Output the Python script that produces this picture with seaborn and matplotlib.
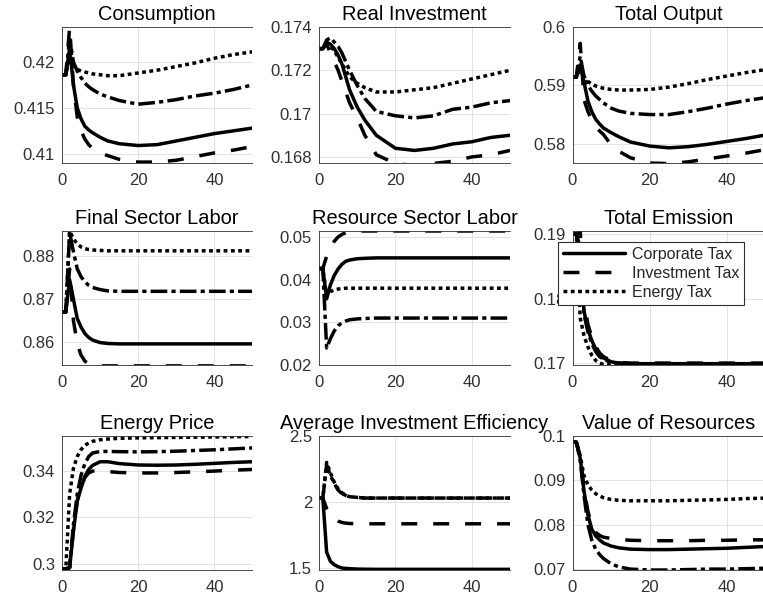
import matplotlib
matplotlib.use('Agg')
import matplotlib.pyplot as plt
from matplotlib.lines import Line2D
from matplotlib.ticker import FuncFormatter
import seaborn as sns

# --- data ---
t = [0, 1, 2, 3, 4, 5, 6, 7, 8, 10, 12, 15, 20, 25, 30, 35, 40, 45, 50]

consumption_corp = [0.4186, 0.4186, 0.4215, 0.4175, 0.4150, 0.4138, 0.4130, 0.4126, 0.4123, 0.4118, 0.4114, 0.4111, 0.4109, 0.4110, 0.4114, 0.4118, 0.4122, 0.4125, 0.4128]
consumption_inv = [0.4186, 0.4186, 0.4238, 0.4175, 0.4140, 0.4125, 0.4116, 0.4110, 0.4106, 0.4101, 0.4098, 0.4094, 0.4091, 0.4091, 0.4093, 0.4097, 0.4101, 0.4104, 0.4108]
consumption_energy = [0.4186, 0.4186, 0.4205, 0.4196, 0.4192, 0.4190, 0.4189, 0.4188, 0.4187, 0.4186, 0.4185, 0.4185, 0.4188, 0.4191, 0.4195, 0.4199, 0.4204, 0.4208, 0.4211]
consumption_alt = [0.4186, 0.4186, 0.4225, 0.4200, 0.4190, 0.4183, 0.4177, 0.4173, 0.4170, 0.4165, 0.4162, 0.4158, 0.4154, 0.4156, 0.4159, 0.4163, 0.4166, 0.4170, 0.4175]

investment_corp = [0.1730, 0.1730, 0.1733, 0.1732, 0.1730, 0.1727, 0.1723, 0.1717, 0.1711, 0.1703, 0.1697, 0.1690, 0.1684, 0.1683, 0.1684, 0.1686, 0.1687, 0.1689, 0.1690]
investment_inv = [0.1730, 0.1730, 0.1732, 0.1728, 0.1724, 0.1720, 0.1715, 0.1710, 0.1705, 0.1698, 0.1690, 0.1681, 0.1677, 0.1676, 0.1677, 0.1678, 0.1680, 0.1681, 0.1683]
investment_energy = [0.1730, 0.1730, 0.1732, 0.1731, 0.1729, 0.1726, 0.1723, 0.1720, 0.1717, 0.1714, 0.1712, 0.1710, 0.1710, 0.1711, 0.1712, 0.1714, 0.1716, 0.1718, 0.1720]
investment_alt = [0.1730, 0.1730, 0.1734, 0.1735, 0.1733, 0.1731, 0.1728, 0.1724, 0.1720, 0.1713, 0.1707, 0.1701, 0.1699, 0.1698, 0.1699, 0.1702, 0.1703, 0.1705, 0.1706]

output_corp = [0.5914, 0.5914, 0.5935, 0.5905, 0.5873, 0.5855, 0.5842, 0.5834, 0.5827, 0.5819, 0.5812, 0.5803, 0.5796, 0.5793, 0.5795, 0.5799, 0.5804, 0.5809, 0.5815]
output_inv = [0.5914, 0.5914, 0.5972, 0.5875, 0.5855, 0.5840, 0.5830, 0.5822, 0.5816, 0.5798, 0.5787, 0.5776, 0.5767, 0.5766, 0.5769, 0.5774, 0.5779, 0.5784, 0.5790]
output_energy = [0.5914, 0.5914, 0.5930, 0.5915, 0.5907, 0.5902, 0.5899, 0.5897, 0.5895, 0.5893, 0.5892, 0.5892, 0.5893, 0.5897, 0.5903, 0.5910, 0.5916, 0.5922, 0.5927]
output_alt = [0.5914, 0.5914, 0.5950, 0.5915, 0.5900, 0.5890, 0.5882, 0.5876, 0.5870, 0.5861, 0.5856, 0.5852, 0.5850, 0.5850, 0.5855, 0.5861, 0.5868, 0.5874, 0.5879]

final_labor_corp = [0.8670, 0.8670, 0.8745, 0.8700, 0.8655, 0.8635, 0.8620, 0.8611, 0.8605, 0.8599, 0.8597, 0.8596, 0.8596, 0.8596, 0.8596, 0.8596, 0.8596, 0.8596, 0.8596]
final_labor_inv = [0.8670, 0.8670, 0.8770, 0.8650, 0.8597, 0.8570, 0.8556, 0.8549, 0.8546, 0.8545, 0.8545, 0.8545, 0.8545, 0.8545, 0.8545, 0.8545, 0.8545, 0.8545, 0.8545]
final_labor_energy = [0.8670, 0.8670, 0.8858, 0.8840, 0.8828, 0.8821, 0.8817, 0.8815, 0.8814, 0.8813, 0.8812, 0.8812, 0.8812, 0.8812, 0.8812, 0.8812, 0.8812, 0.8812, 0.8812]
final_labor_alt = [0.8670, 0.8670, 0.8855, 0.8810, 0.8770, 0.8752, 0.8740, 0.8732, 0.8727, 0.8722, 0.8719, 0.8718, 0.8718, 0.8718, 0.8718, 0.8718, 0.8718, 0.8718, 0.8718]

resource_labor_corp = [0.0426, 0.0426, 0.0355, 0.0388, 0.0410, 0.0425, 0.0436, 0.0443, 0.0446, 0.0449, 0.0450, 0.0451, 0.0451, 0.0451, 0.0451, 0.0451, 0.0451, 0.0451, 0.0451]
resource_labor_inv = [0.0426, 0.0426, 0.0455, 0.0475, 0.0490, 0.0500, 0.0506, 0.0510, 0.0512, 0.0514, 0.0514, 0.0514, 0.0514, 0.0514, 0.0514, 0.0514, 0.0514, 0.0514, 0.0514]
resource_labor_energy = [0.0426, 0.0426, 0.0362, 0.0372, 0.0376, 0.0378, 0.0379, 0.0380, 0.0380, 0.0380, 0.0380, 0.0380, 0.0380, 0.0380, 0.0380, 0.0380, 0.0380, 0.0380, 0.0380]
resource_labor_alt = [0.0426, 0.0426, 0.0240, 0.0262, 0.0280, 0.0292, 0.0299, 0.0303, 0.0306, 0.0308, 0.0309, 0.0310, 0.0310, 0.0310, 0.0310, 0.0310, 0.0310, 0.0310, 0.0310]

emission_corp = [0.1900, 0.1900, 0.1850, 0.1780, 0.1752, 0.1735, 0.1722, 0.1713, 0.1708, 0.1702, 0.1700, 0.1699, 0.1699, 0.1699, 0.1699, 0.1699, 0.1699, 0.1699, 0.1699]
emission_inv = [0.1900, 0.1900, 0.1905, 0.1795, 0.1760, 0.1740, 0.1726, 0.1716, 0.1710, 0.1704, 0.1701, 0.1700, 0.1700, 0.1700, 0.1700, 0.1700, 0.1700, 0.1700, 0.1700]
emission_energy = [0.1900, 0.1900, 0.1770, 0.1742, 0.1725, 0.1712, 0.1704, 0.1700, 0.1698, 0.1697, 0.1697, 0.1697, 0.1697, 0.1697, 0.1697, 0.1697, 0.1697, 0.1697, 0.1697]
emission_alt = [0.1900, 0.1900, 0.1880, 0.1775, 0.1748, 0.1730, 0.1718, 0.1710, 0.1706, 0.1701, 0.1700, 0.1699, 0.1699, 0.1699, 0.1699, 0.1699, 0.1699, 0.1699, 0.1699]

energy_price_corp = [0.2980, 0.2980, 0.2985, 0.3140, 0.3270, 0.3325, 0.3375, 0.3405, 0.3422, 0.3438, 0.3438, 0.3430, 0.3424, 0.3423, 0.3424, 0.3427, 0.3431, 0.3435, 0.3438]
energy_price_inv = [0.2980, 0.2980, 0.2985, 0.3150, 0.3270, 0.3335, 0.3370, 0.3390, 0.3398, 0.3399, 0.3396, 0.3392, 0.3390, 0.3390, 0.3392, 0.3395, 0.3398, 0.3402, 0.3405]
energy_price_energy = [0.2980, 0.2980, 0.3300, 0.3410, 0.3460, 0.3490, 0.3508, 0.3518, 0.3525, 0.3532, 0.3535, 0.3538, 0.3540, 0.3541, 0.3542, 0.3543, 0.3544, 0.3545, 0.3546]
energy_price_alt = [0.2980, 0.2980, 0.2985, 0.3170, 0.3300, 0.3380, 0.3430, 0.3460, 0.3475, 0.3482, 0.3482, 0.3481, 0.3480, 0.3481, 0.3483, 0.3486, 0.3489, 0.3493, 0.3497]

efficiency_corp = [2.03, 2.03, 1.62, 1.55, 1.525, 1.51, 1.50, 1.497, 1.495, 1.492, 1.491, 1.49, 1.49, 1.49, 1.49, 1.49, 1.49, 1.49, 1.49]
efficiency_inv = [2.03, 2.03, 1.95, 1.90, 1.875, 1.855, 1.845, 1.84, 1.837, 1.836, 1.835, 1.835, 1.835, 1.835, 1.835, 1.835, 1.835, 1.835, 1.835]
efficiency_energy = [2.03, 2.03, 2.30, 2.22, 2.15, 2.10, 2.07, 2.05, 2.04, 2.035, 2.03, 2.03, 2.03, 2.03, 2.03, 2.03, 2.03, 2.03, 2.03]
efficiency_alt = [2.03, 2.03, 2.28, 2.20, 2.14, 2.09, 2.065, 2.05, 2.04, 2.035, 2.03, 2.03, 2.03, 2.03, 2.03, 2.03, 2.03, 2.03, 2.03]

resources_corp = [0.0986, 0.0986, 0.0950, 0.0875, 0.0822, 0.0790, 0.0775, 0.0766, 0.0759, 0.0752, 0.0748, 0.0745, 0.0744, 0.0744, 0.0745, 0.0746, 0.0747, 0.0749, 0.0751]
resources_inv = [0.0986, 0.0986, 0.0955, 0.0880, 0.0830, 0.0800, 0.0783, 0.0776, 0.0772, 0.0769, 0.0767, 0.0765, 0.0764, 0.0764, 0.0764, 0.0765, 0.0765, 0.0766, 0.0766]
resources_energy = [0.0986, 0.0986, 0.0955, 0.0910, 0.0890, 0.0878, 0.0870, 0.0865, 0.0861, 0.0857, 0.0855, 0.0854, 0.0854, 0.0854, 0.0855, 0.0856, 0.0857, 0.0859, 0.0860]
resources_alt = [0.0986, 0.0986, 0.0945, 0.0865, 0.0800, 0.0765, 0.0745, 0.0733, 0.0724, 0.0712, 0.0705, 0.0700, 0.0698, 0.0698, 0.0699, 0.0700, 0.0700, 0.0701, 0.0702]

titles = ['Consumption', 'Real Investment', 'Total Output',
          'Final Sector Labor', 'Resource Sector Labor', 'Total Emission',
          'Energy Price', 'Average Investment Efficiency', 'Value of Resources']
legend_labels = ['Corporate Tax', 'Investment Tax', 'Energy Tax']

panels = [
    (consumption_corp, consumption_inv, consumption_energy, consumption_alt),
    (investment_corp, investment_inv, investment_energy, investment_alt),
    (output_corp, output_inv, output_energy, output_alt),
    (final_labor_corp, final_labor_inv, final_labor_energy, final_labor_alt),
    (resource_labor_corp, resource_labor_inv, resource_labor_energy, resource_labor_alt),
    (emission_corp, emission_inv, emission_energy, emission_alt),
    (energy_price_corp, energy_price_inv, energy_price_energy, energy_price_alt),
    (efficiency_corp, efficiency_inv, efficiency_energy, efficiency_alt),
    (resources_corp, resources_inv, resources_energy, resources_alt),
]
ylims = [(0.409, 0.4238), (0.16772, 0.17395), (0.5767, 0.6),
         (0.8547, 0.8858), (0.02, 0.0514), (0.1697, 0.1905),
         (0.2975, 0.3548), (1.485, 2.5), (0.0698, 0.1)]
yticks = [[0.41, 0.415, 0.42], [0.168, 0.17, 0.172, 0.174], [0.58, 0.59, 0.6],
          [0.86, 0.87, 0.88], [0.02, 0.03, 0.04, 0.05], [0.17, 0.18, 0.19],
          [0.3, 0.32, 0.34], [1.5, 2, 2.5], [0.07, 0.08, 0.09, 0.1]]

# --- style ---
sns.set_style('white')
plt.rcParams['font.family'] = ['Liberation Sans', 'DejaVu Sans']

LW = 2.5
line_styles = ['-', (0, (4.6, 4.6)), (0, (1.1, 1.0)), (0, (4.8, 1.2, 1.2, 1.2))]
ink = '#303030'

W, H = 763, 603
col_left = [62, 319, 572.5]
col_width = [190.5, 191, 193]
row_top = [27, 231, 436]
row_bottom = [163, 365, 570]

fig = plt.figure(figsize=(W / 100, H / 100), dpi=100)
axes = []
for i in range(9):
    r, c = divmod(i, 3)
    ax = fig.add_axes([col_left[c] / W, 1 - row_bottom[r] / H,
                       col_width[c] / W, (row_bottom[r] - row_top[r]) / H])
    for vals, ls in zip(panels[i], line_styles):
        sns.lineplot(x=t, y=vals, ax=ax, color='black', linewidth=LW,
                     linestyle=ls, legend=False)
    ax.set_xlim(0, 50)
    ax.set_ylim(*ylims[i])
    ax.set_xticks([0, 20, 40])
    ax.set_yticks(yticks[i])
    ax.yaxis.set_major_formatter(FuncFormatter(lambda v, p: f'{v:g}'))
    ax.grid(True, color='#dedede', linewidth=0.6)
    ax.set_axisbelow(True)
    ax.tick_params(direction='in', length=3, width=0.6, colors=ink,
                   labelsize=12, pad=5)
    ax.tick_params(axis='x', pad=7.5)
    for side in ['left', 'top', 'bottom']:
        ax.spines[side].set_color(ink)
        ax.spines[side].set_linewidth(0.6)
    ax.spines['right'].set_visible(False)
    ax.set_xlabel('')
    ax.set_ylabel('')
    ax.set_title(titles[i], fontsize=14.4, pad=5, color='black')
    axes.append(ax)

handles = [Line2D([], [], color='black', linewidth=LW, linestyle=ls)
           for ls in line_styles[:3]]
leg = axes[5].legend(handles, legend_labels, loc='upper left',
                     bbox_to_anchor=(558 / W, 1 - 242 / H),
                     bbox_transform=fig.transFigure, borderaxespad=0,
                     fontsize=11.5, handlelength=3.9, handletextpad=0.45,
                     labelspacing=0.25, borderpad=0.3, fancybox=False,
                     framealpha=1, edgecolor=ink)
leg.get_frame().set_linewidth(0.8)

fig.savefig('out.png', dpi=100)
